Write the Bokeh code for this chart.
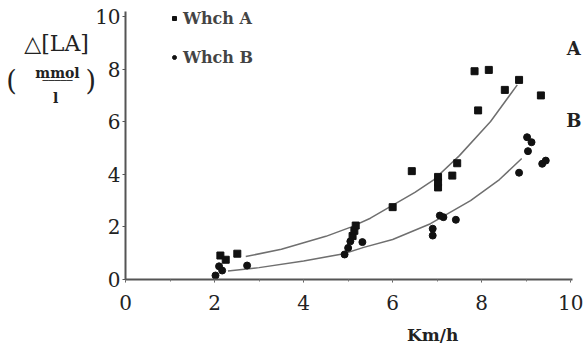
from bokeh.plotting import figure
from bokeh.models import Range1d, Label, Legend, LegendItem, SingleIntervalTicker
from bokeh.embed import file_html
from bokeh.resources import INLINE

# --- data ---
a_x = [2.13, 2.25, 2.51, 5.10, 5.14, 5.17, 6.00, 6.43, 7.02, 7.02, 7.02, 7.34, 7.45,
       7.84, 7.92, 8.16, 8.52, 8.84, 9.33]
a_y = [0.91, 0.75, 0.98, 1.65, 1.85, 2.05, 2.75, 4.12, 3.50, 3.70, 3.90, 3.95, 4.42,
       7.92, 6.43, 7.97, 7.21, 7.59, 7.00]
b_x = [2.02, 2.10, 2.17, 2.73, 4.92, 5.00, 5.05, 5.32, 6.90, 6.90, 7.06, 7.14, 7.42,
       8.84, 9.02, 9.04, 9.12, 9.36, 9.44]
b_y = [0.15, 0.50, 0.34, 0.53, 0.95, 1.20, 1.45, 1.42, 1.67, 1.93, 2.43, 2.37, 2.27,
       4.06, 5.41, 4.88, 5.22, 4.40, 4.52]

curve_a_x = [2.7, 3.5, 4.5, 5.06, 5.5, 6.5, 6.93, 7.5, 8.2, 8.8]
curve_a_y = [0.87, 1.15, 1.64, 1.99, 2.33, 3.31, 3.80, 4.71, 6.01, 7.40]
curve_b_x = [2.3, 3.0, 4.0, 4.9, 5.35, 6.0, 6.85, 7.75, 8.4, 8.9]
curve_b_y = [0.32, 0.45, 0.70, 0.98, 1.22, 1.52, 2.12, 3.00, 3.80, 4.60]

x_ticks = [0, 2, 4, 6, 8, 10]
y_ticks = [0, 2, 4, 6, 8, 10]
series_names = ["Whch A", "Whch B"]
curve_names = ["A", "B"]

SERIF = "DejaVu Serif"

W, H = 584, 346
p = figure(width=W, height=H, output_backend="svg", toolbar_location=None,
           x_range=Range1d(-2.81, 10.31), y_range=Range1d(-2.55, 10.61),
           min_border=0, min_border_left=0, min_border_right=0,
           min_border_top=0, min_border_bottom=0)
p.outline_line_color = None
p.xgrid.visible = False
p.ygrid.visible = False
p.background_fill_color = "white"

for ax in (p.xaxis[0], p.yaxis[0]):
    ax.fixed_location = 0
    ax.axis_line_color = "#555555"
    ax.axis_line_width = 2
    ax.major_tick_line_color = "#555555"
    ax.minor_tick_line_color = "#777777"
    ax.major_tick_in = 0
    ax.major_tick_out = 3
    ax.minor_tick_in = 0
    ax.minor_tick_out = 2
    ax.major_label_text_font = SERIF
    ax.major_label_text_font_size = "20px"
    ax.major_label_text_color = "#222222"

p.xaxis[0].bounds = (0, 10.05)
p.yaxis[0].bounds = (0, 10.2)
p.xaxis[0].ticker = SingleIntervalTicker(interval=2, num_minor_ticks=2)
p.yaxis[0].ticker = SingleIntervalTicker(interval=2, num_minor_ticks=0)
p.xaxis[0].major_label_standoff = 13
p.yaxis[0].major_label_standoff = 2

# trend curves
p.line(curve_a_x, curve_a_y, line_color="#6f6f6f", line_width=1.5)
p.line(curve_b_x, curve_b_y, line_color="#6f6f6f", line_width=1.5)

ra = p.scatter(a_x, a_y, marker="square", size=7, color="#111111")
rb = p.scatter(b_x, b_y, marker="circle", size=7, color="#111111")

legend = Legend(items=[LegendItem(label=series_names[0], renderers=[ra]),
                       LegendItem(label=series_names[1], renderers=[rb])],
                location=(169, 279), orientation="vertical",
                border_line_color=None, background_fill_alpha=0,
                label_text_font=SERIF, label_text_font_style="bold",
                label_text_font_size="16px", glyph_width=10, glyph_height=20,
                label_height=20, spacing=19, padding=0, margin=0, label_standoff=4)
p.add_layout(legend, "center")

def lab(x, y, t, size="17px", style="normal", align="center", font=SERIF):
    p.add_layout(Label(x=x, y=y, text=t, text_font=font, text_font_size=size,
                       text_font_style=style, text_align=align, text_baseline="middle",
                       text_color="#222222"))

# curve labels
lab(10.07, 8.78, curve_names[0], size="18px", style="bold")
lab(10.07, 6.05, curve_names[1], size="18px", style="bold")

# y-axis title
lab(-1.55, 8.97, "\u25b3[LA]", size="22px")
lab(-2.56, 7.57, "(", size="27px")
lab(-0.78, 7.57, ")", size="27px")
lab(-1.53, 7.85, "mmol", size="14px", style="bold")
lab(-1.53, 7.56, "\u2500\u2500\u2500\u2500\u2500", size="10px", font="DejaVu Sans")
lab(-1.57, 6.90, "l", size="14px", style="bold")

# x-axis title
lab(6.9, -2.1, "Km/h", size="17px", style="bold")

open("out.html", "w").write(file_html(p, INLINE))
